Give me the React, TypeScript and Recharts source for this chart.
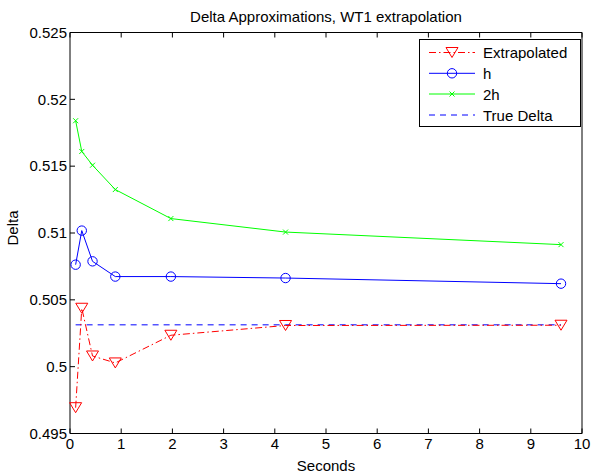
import React from "react";
import { LineChart, Line, XAxis, YAxis, Label } from "recharts";

// values
const seconds = [0.11, 0.23, 0.44, 0.885, 1.97, 4.21, 9.59];
const extrapolated = [0.49693, 0.50437, 0.5008, 0.50028, 0.50235, 0.50308, 0.5031];
const deltaH = [0.50763, 0.51018, 0.50788, 0.50674, 0.50674, 0.50663, 0.50621];
const delta2H = [0.5184, 0.5161, 0.51507, 0.51325, 0.51108, 0.51007, 0.50913];
const trueDelta = [0.50313, 0.50313, 0.50313, 0.50313, 0.50313, 0.50313, 0.50313];

const xTicks = [0, 1, 2, 3, 4, 5, 6, 7, 8, 9, 10];
const yTicks = [0.495, 0.5, 0.505, 0.51, 0.515, 0.52, 0.525];
const legendNames = ["Extrapolated", "h", "2h", "True Delta"];

const FONT = "'Liberation Sans', Arial, Helvetica, sans-serif";

const rows = seconds.map((t, i) => ({
  t,
  ext: extrapolated[i],
  h: deltaH[i],
  h2: delta2H[i],
  truth: trueDelta[i],
}));

const fmtY = (v: number) => String(parseFloat(v.toFixed(3)));

const Tri = (props: any) => {
  const { cx, cy } = props;
  if (cx == null || cy == null) return null;
  return (
    <path
      d={`M${cx - 6},${cy - 5}L${cx + 6},${cy - 5}L${cx},${cy + 5}Z`}
      fill="none"
      stroke="#ff0000"
      strokeWidth={1}
    />
  );
};

const Circ = (props: any) => {
  const { cx, cy } = props;
  if (cx == null || cy == null) return null;
  return <circle cx={cx} cy={cy} r={4.7} fill="none" stroke="#0000ff" strokeWidth={1} />;
};

const Cross = (props: any) => {
  const { cx, cy } = props;
  if (cx == null || cy == null) return null;
  return (
    <path
      d={`M${cx - 2.5},${cy - 2.5}L${cx + 2.5},${cy + 2.5}M${cx - 2.5},${cy + 2.5}L${cx + 2.5},${cy - 2.5}`}
      stroke="#00ff00"
      strokeWidth={1}
    />
  );
};

const tickStyle = { fill: "#000", fontSize: 15, fontFamily: FONT };

const ChartLegend = () => {
  const rowY = [52.5, 73.3, 94, 115];
  return (
    <svg
      width={592}
      height={473}
      style={{ position: "absolute", left: 0, top: 0, pointerEvents: "none" }}
    >
      <rect x={419.5} y={39.5} width={161} height={87} fill="#fff" stroke="#000" strokeWidth={1} />
      {/* Extrapolated */}
      <line x1={429} x2={475} y1={rowY[0]} y2={rowY[0]} stroke="#ff0000" strokeDasharray="7 3 1.5 3" />
      <Tri cx={452} cy={rowY[0]} />
      {/* h */}
      <line x1={429} x2={475} y1={rowY[1]} y2={rowY[1]} stroke="#0000ff" />
      <Circ cx={452} cy={rowY[1]} />
      {/* 2h */}
      <line x1={429} x2={475} y1={rowY[2]} y2={rowY[2]} stroke="#00ff00" />
      <Cross cx={452} cy={rowY[2]} />
      {/* True Delta */}
      <line x1={429} x2={475} y1={rowY[3]} y2={rowY[3]} stroke="#0000ff" strokeDasharray="6 5" />
      {legendNames.map((n, i) => (
        <text key={n} x={483} y={rowY[i] + 5.5} fontSize={15} fontFamily={FONT} fill="#000">
          {n}
        </text>
      ))}
    </svg>
  );
};

export default function App() {
  return (
    <div style={{ position: "absolute", left: 0, top: 0, width: 592, height: 473, background: "#fff" }}>
      <LineChart
        width={592}
        height={473}
        data={rows}
        margin={{ top: 31.5, right: 9, left: 10, bottom: 0 }}
      >
        <XAxis
          dataKey="t"
          type="number"
          domain={[0, 10]}
          ticks={xTicks}
          interval={0}
          height={39.5}
          stroke="#000"
          tickSize={-5}
          tickMargin={9.5}
          tick={tickStyle}
        >
          <Label
            value="Seconds"
            position="insideBottom"
            offset={2}
            style={{ fill: "#000", fontSize: 15, fontFamily: FONT }}
          />
        </XAxis>
        <XAxis
          xAxisId="top"
          orientation="top"
          dataKey="t"
          type="number"
          domain={[0, 10]}
          ticks={xTicks}
          interval={0}
          height={1}
          stroke="#000"
          tickSize={-5}
          tickFormatter={() => ""}
        >
          <Label
            value="Delta Approximations, WT1 extrapolation"
            position="top"
            offset={10}
            style={{ fill: "#000", fontSize: 15, fontFamily: FONT }}
          />
        </XAxis>
        <YAxis
          type="number"
          domain={[0.495, 0.525]}
          ticks={yTicks}
          interval={0}
          width={60}
          stroke="#000"
          tickSize={-5}
          tickMargin={8}
          tickFormatter={fmtY}
          tick={tickStyle}
        >
          <Label
            value="Delta"
            angle={-90}
            position="insideLeft"
            offset={3}
            dy={-5}
            style={{ fill: "#000", fontSize: 15, fontFamily: FONT, textAnchor: "middle" }}
          />
        </YAxis>
        <YAxis
          yAxisId="r"
          orientation="right"
          type="number"
          domain={[0.495, 0.525]}
          ticks={yTicks}
          interval={0}
          width={1}
          stroke="#000"
          tickSize={-5}
          tickFormatter={() => ""}
        />
        <Line
          dataKey="truth"
          stroke="#0000ff"
          strokeWidth={1}
          strokeDasharray="6 5"
          dot={false}
          isAnimationActive={false}
        />
        <Line
          dataKey="ext"
          stroke="#ff0000"
          strokeWidth={1}
          strokeDasharray="7 3 1.5 3"
          dot={<Tri />}
          isAnimationActive={false}
        />
        <Line
          dataKey="h"
          stroke="#0000ff"
          strokeWidth={1}
          dot={<Circ />}
          isAnimationActive={false}
        />
        <Line
          dataKey="h2"
          stroke="#00ff00"
          strokeWidth={1}
          dot={<Cross />}
          isAnimationActive={false}
        />
      </LineChart>
      <ChartLegend />
    </div>
  );
}
